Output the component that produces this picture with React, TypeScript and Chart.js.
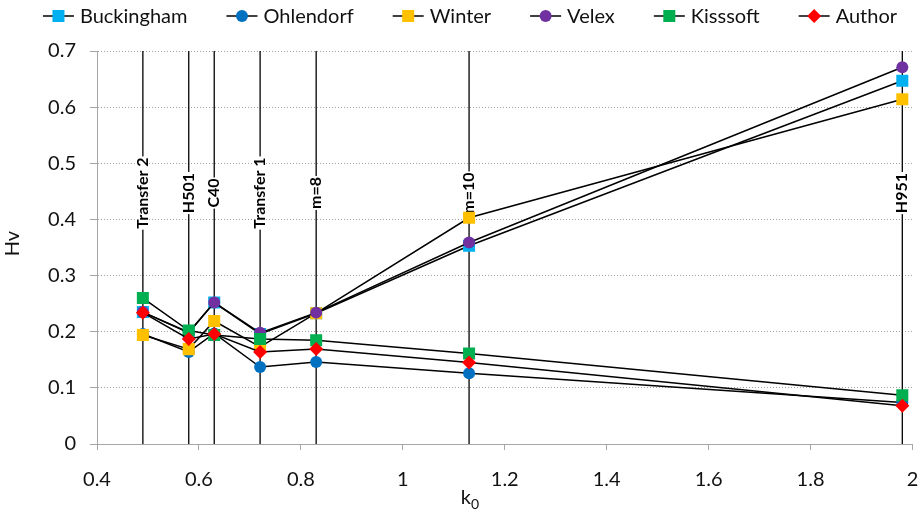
import React, { useEffect, useRef } from 'react';
import { Chart, registerables } from 'chart.js';

Chart.register(...registerables);

// k0 of each gear set, and the name written on its vertical line
const k0 = [0.49, 0.58, 0.63, 0.72, 0.83, 1.13, 1.98];
const gearNames = ['Transfer 2', 'H501', 'C40', 'Transfer 1', 'm=8', 'm=10', 'H951'];

// Hv per gear set for each method
const buckingham = [0.235, 0.199, 0.252, 0.196, 0.233, 0.353, 0.647];
const ohlendorf = [0.196, 0.164, 0.197, 0.137, 0.146, 0.126, 0.074];
const winter = [0.194, 0.169, 0.219, 0.173, 0.233, 0.403, 0.614];
const velex = [0.235, 0.198, 0.252, 0.198, 0.234, 0.359, 0.671];
const kisssoft = [0.26, 0.202, 0.194, 0.187, 0.185, 0.161, 0.087];
const author = [0.234, 0.187, 0.196, 0.164, 0.169, 0.145, 0.068];

const seriesNames = ['Buckingham', 'Ohlendorf', 'Winter', 'Velex', 'Kisssoft', 'Author'];
const seriesValues = [buckingham, ohlendorf, winter, velex, kisssoft, author];

const xTickStep = 0.2;
const yTickStep = 0.1;

// marker look per series
const markerColors = ['#00B0F0', '#0070C0', '#FFC000', '#7030A0', '#00B050', '#FF0000'];
const markerShapes = ['rect', 'circle', 'rect', 'circle', 'rect', 'rectRot'];
const markerRadii = [8.5, 6, 8.5, 6, 8.5, 7];

const FONT = 'Lato, "Noto Sans", sans-serif';
const AXIS_GRAY = '#a6a6a6';
const TEXT = '#111';
const LABEL_LEVEL = 0.447;

const fmt = (v: number | string) => String(Math.round(Number(v) * 10) / 10);

function drawMarker(ctx: CanvasRenderingContext2D, shape: string, r: number, x: number, y: number, color: string) {
  ctx.fillStyle = color;
  ctx.beginPath();
  if (shape === 'circle') {
    ctx.arc(x, y, r, 0, Math.PI * 2);
  } else if (shape === 'rect') {
    const s = r * Math.SQRT1_2;
    ctx.rect(x - s, y - s, 2 * s, 2 * s);
  } else {
    ctx.moveTo(x, y - r);
    ctx.lineTo(x + r, y);
    ctx.lineTo(x, y + r);
    ctx.lineTo(x - r, y);
    ctx.closePath();
  }
  ctx.fill();
}

// vertical lines at each gear set with its rotated name
const gearLinesPlugin = {
  id: 'gearLines',
  beforeDatasetsDraw(chart: any) {
    const { ctx, scales } = chart;
    const xs = scales.x;
    const ys = scales.y;
    ctx.save();
    ctx.strokeStyle = '#000';
    ctx.lineWidth = 1.3;
    k0.forEach((v) => {
      const px = xs.getPixelForValue(v);
      ctx.beginPath();
      ctx.moveTo(px, ys.getPixelForValue(0));
      ctx.lineTo(px, ys.getPixelForValue(ys.max));
      ctx.stroke();
    });
    ctx.font = `bold 16px ${FONT}`;
    ctx.textAlign = 'center';
    ctx.textBaseline = 'middle';
    const cy = ys.getPixelForValue(LABEL_LEVEL);
    k0.forEach((v, i) => {
      const px = xs.getPixelForValue(v);
      const w = ctx.measureText(gearNames[i]).width;
      ctx.save();
      ctx.translate(px, cy);
      ctx.rotate(-Math.PI / 2);
      ctx.fillStyle = '#fff';
      ctx.fillRect(-w / 2 - 1, -8, w + 2, 13);
      ctx.fillStyle = '#000';
      ctx.fillText(gearNames[i], 0, 0);
      ctx.restore();
    });
    ctx.restore();
  },
};

// legend row: line with marker, then the series name
const legendPlugin = {
  id: 'lineMarkerLegend',
  afterDraw(chart: any) {
    const { ctx } = chart;
    ctx.save();
    ctx.font = `20px ${FONT}`;
    ctx.textBaseline = 'middle';
    ctx.textAlign = 'left';
    const lineLen = 31;
    const textGap = 6;
    const entryGap = 39;
    const widths = seriesNames.map((n) => ctx.measureText(n).width);
    const total = widths.reduce((a, w) => a + lineLen + textGap + w, 0) + entryGap * (seriesNames.length - 1);
    let x = 470 - total / 2;
    const y = 16;
    seriesNames.forEach((name, i) => {
      ctx.strokeStyle = '#000';
      ctx.lineWidth = 1.5;
      ctx.beginPath();
      ctx.moveTo(x, y);
      ctx.lineTo(x + lineLen, y);
      ctx.stroke();
      drawMarker(ctx, markerShapes[i], markerRadii[i], x + lineLen / 2, y, markerColors[i]);
      ctx.fillStyle = TEXT;
      ctx.fillText(name, x + lineLen + textGap, y + 1);
      x += lineLen + textGap + widths[i] + entryGap;
    });
    ctx.restore();
  },
};

// axis titles: Hv (rotated) and k with subscript 0
const axisTitlePlugin = {
  id: 'axisTitles',
  afterDraw(chart: any) {
    const { ctx, chartArea } = chart;
    ctx.save();
    ctx.fillStyle = TEXT;
    ctx.textBaseline = 'middle';
    ctx.textAlign = 'center';
    ctx.font = `20px ${FONT}`;
    ctx.save();
    ctx.translate(13, (chartArea.top + chartArea.bottom) / 2 - 4);
    ctx.rotate(-Math.PI / 2);
    ctx.fillText('Hv', 0, 0);
    ctx.restore();
    ctx.textAlign = 'left';
    ctx.textBaseline = 'alphabetic';
    const kw = ctx.measureText('k').width;
    ctx.font = `14px ${FONT}`;
    const zw = ctx.measureText('0').width;
    const left = 470 - (kw + zw) / 2;
    ctx.font = `20px ${FONT}`;
    ctx.fillText('k', left, 504);
    ctx.font = `14px ${FONT}`;
    ctx.fillText('0', left + kw, 509);
    ctx.restore();
  },
};

export default function App() {
  const ref = useRef<HTMLCanvasElement>(null);

  useEffect(() => {
    const canvas = ref.current;
    if (!canvas) return;
    const chart = new Chart(canvas, {
      type: 'scatter',
      data: {
        datasets: seriesNames.map((name, i) => ({
          label: name,
          data: k0.map((x, j) => ({ x, y: seriesValues[i][j] })),
          showLine: true,
          borderColor: '#000',
          borderWidth: 1.5,
          pointStyle: markerShapes[i] as any,
          pointRadius: markerRadii[i],
          pointBackgroundColor: markerColors[i],
          pointBorderColor: markerColors[i],
          pointBorderWidth: 0,
          order: seriesNames.length - i,
        })),
      },
      options: {
        responsive: false,
        animation: false,
        events: [],
        layout: { padding: { top: 51, right: 8, left: 0, bottom: 0 } },
        plugins: {
          legend: { display: false },
          tooltip: { enabled: false },
        },
        scales: {
          x: {
            type: 'linear',
            min: 0.4,
            max: 2,
            afterFit: (s: any) => {
              s.height = 68;
              s.paddingLeft = 0;
              s.paddingRight = 0;
            },
            ticks: {
              stepSize: xTickStep,
              callback: (v: any) => fmt(v),
              font: { family: FONT, size: 20 },
              color: TEXT,
              padding: 18,
              maxRotation: 0,
              autoSkip: false,
            },
            grid: {
              drawOnChartArea: false,
              drawTicks: true,
              tickLength: 6,
              tickColor: AXIS_GRAY,
              color: AXIS_GRAY,
            },
            border: { color: AXIS_GRAY, width: 1 },
          },
          y: {
            min: 0,
            max: 0.7,
            afterFit: (s: any) => {
              s.width = 97;
              s.paddingTop = 0;
              s.paddingBottom = 0;
            },
            ticks: {
              stepSize: yTickStep,
              callback: (v: any) => fmt(v),
              font: { family: FONT, size: 20 },
              color: TEXT,
              padding: 14,
            },
            grid: {
              color: '#a0a0a0',
              lineWidth: 1,
              drawTicks: true,
              tickLength: 7,
              tickColor: AXIS_GRAY,
              tickBorderDash: [],
            },
            border: { color: AXIS_GRAY, width: 1, dash: [1, 2] },
          },
        },
      } as any,
      plugins: [gearLinesPlugin, legendPlugin, axisTitlePlugin],
    });
    return () => chart.destroy();
  }, []);

  return (
    <div style={{ position: 'fixed', left: 0, top: 0, width: 921, height: 512, background: '#fff' }}>
      <canvas ref={ref} width={921} height={512} style={{ width: 921, height: 512, display: 'block' }} />
    </div>
  );
}
